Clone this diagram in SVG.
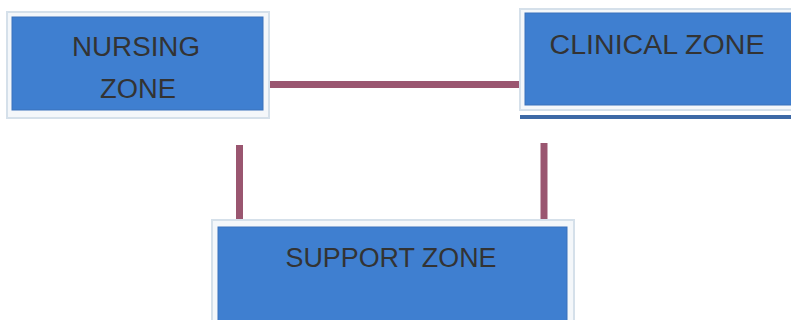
<svg xmlns="http://www.w3.org/2000/svg" width="791" height="320" viewBox="0 0 791 320">
<style>
.frame{fill:#f4f7fa;stroke:#d5e0ea;stroke-width:2}
.box{fill:#3f7fd0;stroke:#3a72bb;stroke-width:1}
.lbl{font-family:"Liberation Sans",Arial,sans-serif;font-size:27px;fill:#333333;text-anchor:middle}
.conn{stroke:#9a5670;stroke-width:7;fill:none}
</style>
<rect width="791" height="320" fill="#ffffff"/>
<g id="connectors">
<line class="conn" x1="268" y1="84.5" x2="522" y2="84.5"/>
<line class="conn" x1="239.5" y1="145" x2="239.5" y2="225"/>
<line class="conn" x1="544" y1="143" x2="544" y2="223"/>
</g>
<g id="nursing">
<rect class="frame" x="7" y="12" width="262" height="106"/>
<rect class="box" x="12" y="17" width="251" height="93"/>
<text class="lbl" x="136" y="56" textLength="128" lengthAdjust="spacingAndGlyphs">NURSING</text>
<text class="lbl" x="138" y="98" textLength="76" lengthAdjust="spacingAndGlyphs">ZONE</text>
</g>
<g id="clinical">
<rect class="frame" x="520" y="9" width="275" height="101"/>
<rect class="box" x="525" y="13" width="270" height="92"/>
<rect x="520" y="115" width="275" height="4" fill="#3d69a6"/>
<text class="lbl" x="657" y="54" textLength="215" lengthAdjust="spacingAndGlyphs">CLINICAL ZONE</text>
</g>
<g id="support">
<rect class="frame" x="212" y="220" width="362" height="110"/>
<rect class="box" x="218" y="227" width="349" height="100"/>
<text class="lbl" x="391" y="267" textLength="211" lengthAdjust="spacingAndGlyphs">SUPPORT ZONE</text>
</g>
</svg>
